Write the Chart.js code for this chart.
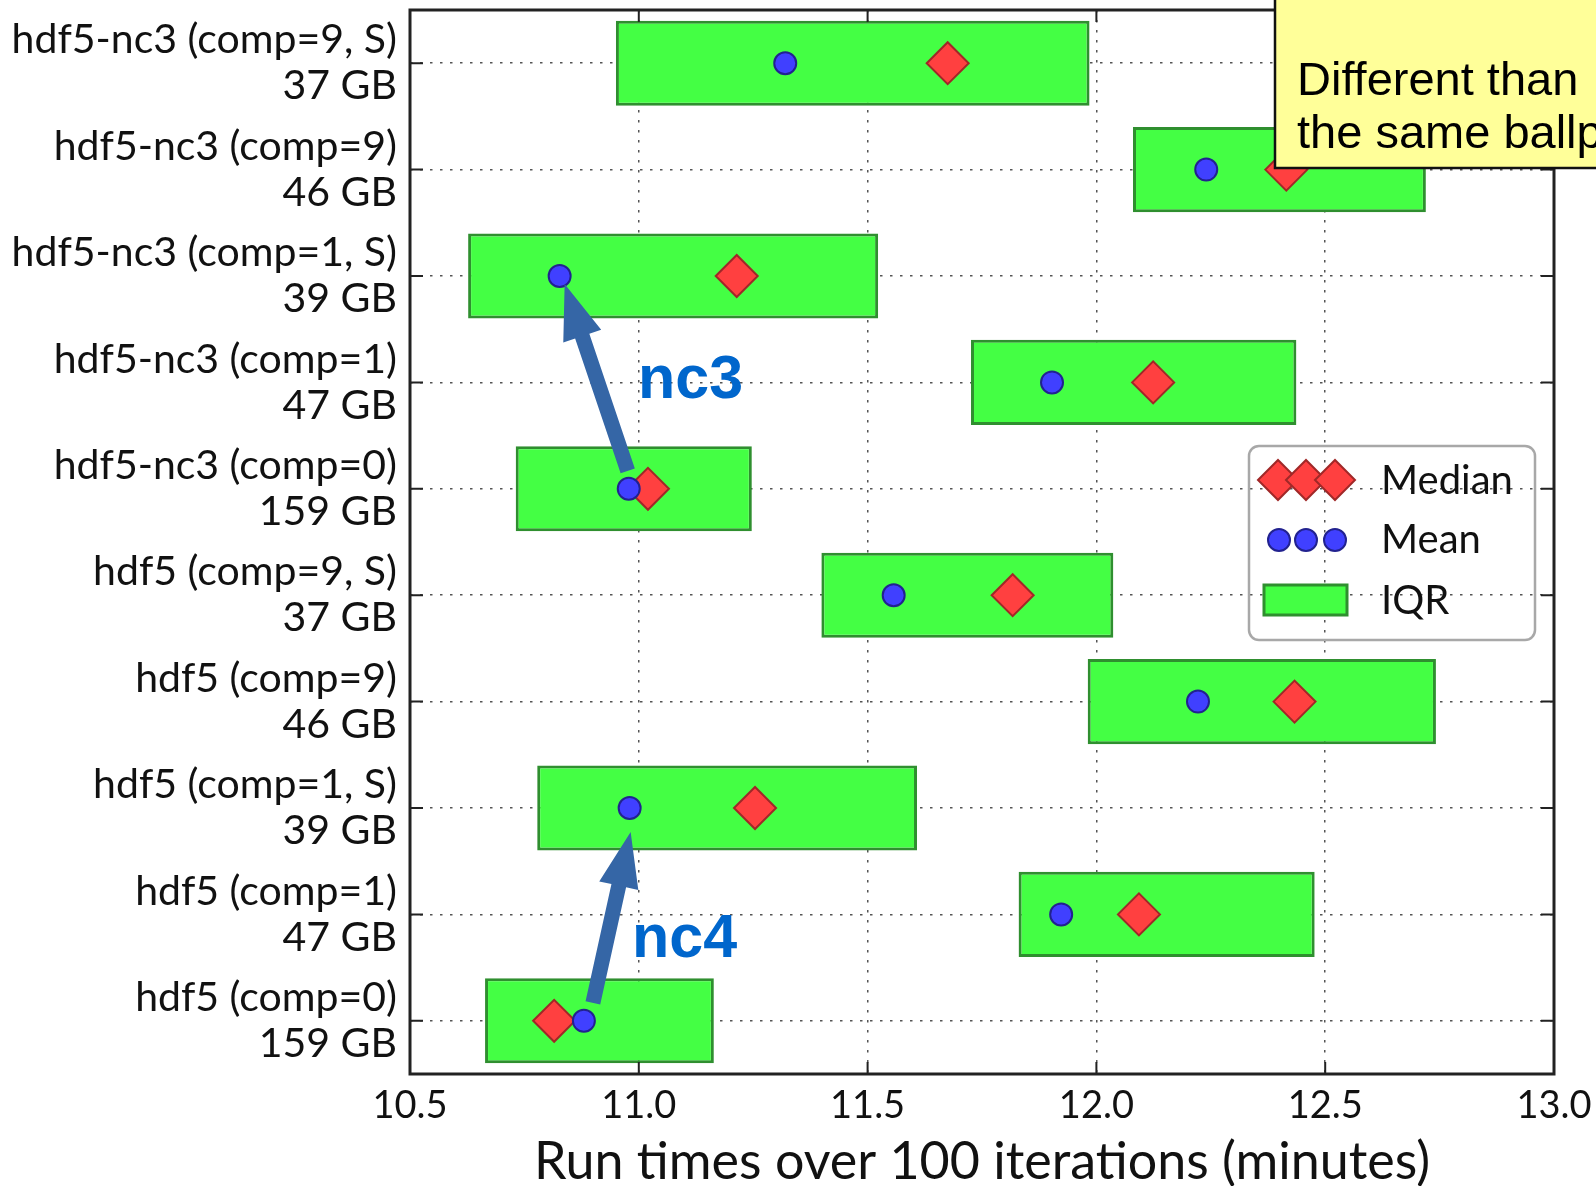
<!DOCTYPE html>
<html>
<head>
<meta charset="utf-8">
<script src="https://cdn.jsdelivr.net/npm/chart.js@4/dist/chart.umd.min.js"></script>
<style>
  body { margin: 0; background: #fff; }
  canvas { display: block; }
</style>
</head>
<body>
<canvas id="myChart" width="1596" height="1186"></canvas>
<script>
// categorie dall'alto verso il basso
const labels = [
  ["hdf5-nc3 (comp=9, S)", "37 GB"],
  ["hdf5-nc3 (comp=9)", "46 GB"],
  ["hdf5-nc3 (comp=1, S)", "39 GB"],
  ["hdf5-nc3 (comp=1)", "47 GB"],
  ["hdf5-nc3 (comp=0)", "159 GB"],
  ["hdf5 (comp=9, S)", "37 GB"],
  ["hdf5 (comp=9)", "46 GB"],
  ["hdf5 (comp=1, S)", "39 GB"],
  ["hdf5 (comp=1)", "47 GB"],
  ["hdf5 (comp=0)", "159 GB"]
];
const q1 = [10.95, 12.08, 10.627, 11.726, 10.731, 11.399, 11.981, 10.778, 11.83, 10.664];
const q3 = [11.985, 12.72, 11.523, 12.437, 11.247, 12.037, 12.742, 11.608, 12.477, 11.164];
const mean = [11.32, 12.24, 10.827, 11.903, 10.978, 11.557, 12.222, 10.98, 11.923, 10.88];
const median = [11.675, 12.415, 11.214, 12.124, 11.02, 11.817, 12.433, 11.254, 12.093, 10.815];
const xTicks = [10.5, 11.0, 11.5, 12.0, 12.5, 13.0];

const labelFont = "Lato";
const dotted = [2.5, 7.5];

// frecce nc3 / nc4: da una media all'altra
const arrows = [
  { from: 4, to: 2, text: "nc3", tailOff: [-1, -18], tipOff: [5, 8], textAt: [638, 398] },
  { from: 9, to: 7, text: "nc4", tailOff: [9, -18], tipOff: [1, 24], textAt: [632, 957] }
];

const drawArrow = function (ctx, x1, y1, x2, y2) {
  const ang = Math.atan2(y2 - y1, x2 - x1);
  const len = Math.hypot(x2 - x1, y2 - y1);
  const headL = 55, headW = 20, shaftW = 7.5;
  ctx.save();
  ctx.translate(x1, y1);
  ctx.rotate(ang);
  ctx.beginPath();
  ctx.moveTo(0, -shaftW);
  ctx.lineTo(len - headL, -shaftW);
  ctx.lineTo(len - headL, -headW);
  ctx.lineTo(len, 0);
  ctx.lineTo(len - headL, headW);
  ctx.lineTo(len - headL, shaftW);
  ctx.lineTo(0, shaftW);
  ctx.closePath();
  ctx.fillStyle = "#3566a6";
  ctx.fill();
  ctx.restore();
};

const diamond = function (ctx, x, y, r) {
  ctx.beginPath();
  ctx.moveTo(x - r, y);
  ctx.lineTo(x, y - r);
  ctx.lineTo(x + r, y);
  ctx.lineTo(x, y + r);
  ctx.closePath();
  ctx.fillStyle = "#ff4040";
  ctx.fill();
  ctx.lineWidth = 2;
  ctx.strokeStyle = "#a02828";
  ctx.stroke();
};

const dot = function (ctx, x, y, r) {
  ctx.beginPath();
  ctx.arc(x, y, r, 0, Math.PI * 2);
  ctx.fillStyle = "#4040ff";
  ctx.fill();
  ctx.lineWidth = 2;
  ctx.strokeStyle = "#22228f";
  ctx.stroke();
};

const extras = {
  id: "extras",
  afterDraw(chart) {
    const ctx = chart.ctx;
    const a = chart.chartArea;
    const xs = chart.scales.x;
    const ys = chart.scales.y;

    // cornice e tacche verso l'interno
    ctx.save();
    ctx.strokeStyle = "#222";
    ctx.lineWidth = 2;
    ctx.beginPath();
    xs.ticks.forEach(function (t) {
      const px = xs.getPixelForValue(t.value);
      ctx.moveTo(px, a.top); ctx.lineTo(px, a.top + 12);
      ctx.moveTo(px, a.bottom); ctx.lineTo(px, a.bottom - 12);
    });
    labels.forEach(function (l, i) {
      const py = ys.getPixelForValue(i);
      ctx.moveTo(a.left, py); ctx.lineTo(a.left + 13, py);
      ctx.moveTo(a.right, py); ctx.lineTo(a.right - 13, py);
    });
    ctx.stroke();
    ctx.lineWidth = 3;
    ctx.strokeRect(a.left, a.top, a.right - a.left, a.bottom - a.top);
    ctx.restore();

    // frecce e scritte
    arrows.forEach(function (ar) {
      const x1 = xs.getPixelForValue(mean[ar.from]) + ar.tailOff[0];
      const y1 = ys.getPixelForValue(ar.from) + ar.tailOff[1];
      const x2 = xs.getPixelForValue(mean[ar.to]) + ar.tipOff[0];
      const y2 = ys.getPixelForValue(ar.to) + ar.tipOff[1];
      drawArrow(ctx, x1, y1, x2, y2);
      ctx.save();
      ctx.font = "bold 61px 'Liberation Sans'";
      ctx.fillStyle = "#0066cc";
      ctx.textBaseline = "alphabetic";
      ctx.fillText(ar.text, ar.textAt[0], ar.textAt[1]);
      ctx.restore();
    });

    // legenda
    ctx.save();
    ctx.beginPath();
    ctx.roundRect(1249, 446, 286, 194, 10);
    ctx.lineWidth = 2.5;
    ctx.strokeStyle = "#a8a8a8";
    ctx.stroke();
    [1278, 1306, 1335].forEach(function (x) { diamond(ctx, x, 480, 20); });
    [1279, 1306, 1335].forEach(function (x) { dot(ctx, x, 540, 11); });
    ctx.fillStyle = "#44ff44";
    ctx.fillRect(1264, 585, 83, 30);
    ctx.lineWidth = 3;
    ctx.strokeStyle = "#2f8f2f";
    ctx.strokeRect(1264, 585, 83, 30);
    ctx.fillStyle = "#111";
    ctx.font = "40px " + labelFont;
    ctx.textBaseline = "alphabetic";
    ctx.fillText("Median", 1381, 494);
    ctx.fillText("Mean", 1381, 553);
    ctx.fillText("IQR", 1381, 614);
    ctx.restore();

    // riquadro giallo in alto a destra
    ctx.save();
    ctx.fillStyle = "#ffff99";
    ctx.fillRect(1275, -5, 340, 173);
    ctx.lineWidth = 2.5;
    ctx.strokeStyle = "#111";
    ctx.strokeRect(1275, -5, 340, 173);
    ctx.fillStyle = "#000";
    ctx.font = "47px 'Liberation Sans'";
    ctx.fillText("Different than", 1297, 95);
    ctx.fillText("the same ballpark", 1297, 148);
    ctx.restore();
  }
};

const chart = function () {
  const ctx = document.getElementById("myChart");
  new Chart(ctx, {
    type: "bar",
    data: {
      labels: labels,
      datasets: [
        {
          type: "scatter",
          label: "Mean",
          data: mean.map(function (v, i) { return { x: v, y: i }; }),
          pointStyle: "circle",
          pointRadius: 11,
          backgroundColor: "#4040ff",
          borderColor: "#22228f",
          borderWidth: 2,
          order: 0
        },
        {
          type: "scatter",
          label: "Median",
          data: median.map(function (v, i) { return { x: v, y: i }; }),
          pointStyle: "rectRot",
          pointRadius: 21,
          backgroundColor: "#ff4040",
          borderColor: "#a02828",
          borderWidth: 2,
          order: 1
        },
        {
          label: "IQR",
          data: q1.map(function (v, i) { return [v, q3[i]]; }),
          backgroundColor: "#44ff44",
          borderColor: "#2f8f2f",
          borderWidth: 3,
          borderSkipped: false,
          barPercentage: 0.8,
          categoryPercentage: 1,
          order: 2
        }
      ]
    },
    options: {
      indexAxis: "y",
      responsive: false,
      animation: false,
      layout: { autoPadding: false, padding: { top: 10, right: 42, left: 0, bottom: 0 } },
      plugins: {
        legend: { display: false },
        tooltip: { enabled: false }
      },
      scales: {
        x: {
          type: "linear",
          min: 10.5,
          max: 13.0,
          afterBuildTicks: function (s) { s.ticks = xTicks.map(function (v) { return { value: v }; }); },
          afterFit: function (s) { s.height = 112; s.paddingLeft = 0; s.paddingRight = 0; },
          border: { display: false, dash: dotted },
          grid: { color: "#555", lineWidth: 1.5, drawTicks: false, borderDash: dotted },
          ticks: {
            padding: 9,
            maxRotation: 0,
            autoSkip: false,
            color: "#111",
            font: { family: labelFont, size: 38 },
            callback: function (v) { return v.toFixed(1); }
          },
          title: {
            display: true,
            text: "Run times over 100 iterations (minutes)",
            color: "#111",
            font: { family: labelFont, size: 52, lineHeight: 0.9 },
            padding: { top: 0, bottom: 0 }
          }
        },
        y: {
          type: "category",
          offset: true,
          afterFit: function (s) { s.width = 410; s.paddingTop = 0; s.paddingBottom = 0; },
          border: { display: false, dash: dotted },
          grid: { offset: false, color: "#555", lineWidth: 1.5, drawTicks: false, borderDash: dotted },
          ticks: {
            padding: 13,
            autoSkip: false,
            color: "#111",
            font: { family: labelFont, size: 41, lineHeight: 1.12 }
          }
        }
      }
    },
    plugins: [extras]
  });
};
chart();
</script>
</body>
</html>
